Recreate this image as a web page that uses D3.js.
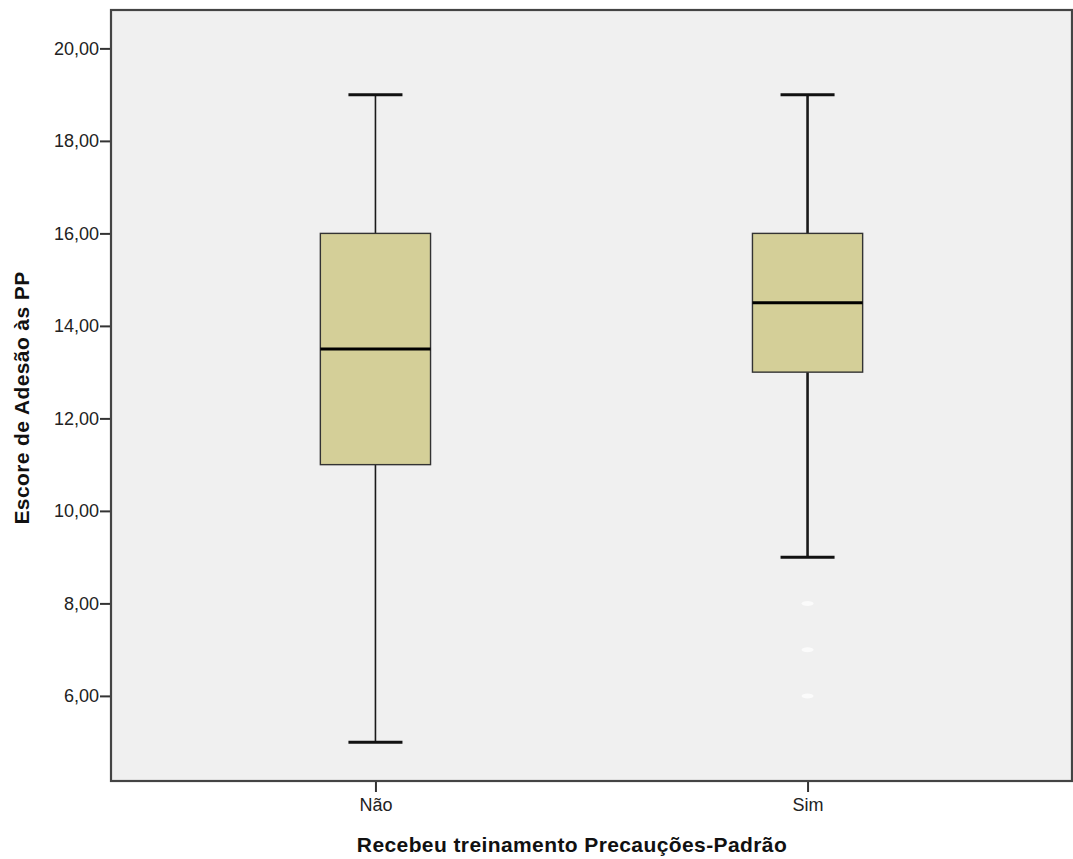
<!DOCTYPE html>
<html>
<head>
<meta charset="utf-8">
<script src="https://cdnjs.cloudflare.com/ajax/libs/d3/7.8.5/d3.min.js"></script>
<style>
  body { margin: 0; background: #fff; }
  svg { display: block; font-family: "Liberation Sans", Arial, sans-serif; }
</style>
</head>
<body>
<svg id="chart" width="1073" height="859"></svg>
<script>
// box plot values per group
const categories = ["Não", "Sim"];
const whiskerLow = [5, 9];
const q1 = [11, 13];
const median = [13.5, 14.5];
const q3 = [16, 16];
const whiskerHigh = [19, 19];
const outliers = [[], [8, 7, 6]];
const yTicks = [6, 8, 10, 12, 14, 16, 18, 20];

const frame = { left: 111, right: 1072, top: 10, bottom: 781 };
const svg = d3.select("#chart");

const x = d3.scalePoint().domain(categories)
    .range([frame.left, frame.right]).padding(0.612);
const y = d3.scaleLinear().domain([4.16, 20.83])
    .range([frame.bottom, frame.top]);

const fmt = v => d3.format(".2f")(v).replace(".", ",");

// plot background
svg.append("rect")
    .attr("x", frame.left).attr("y", frame.top)
    .attr("width", frame.right - frame.left).attr("height", frame.bottom - frame.top)
    .attr("fill", "#f0f0f0");

// axes
const yAxis = svg.append("g").attr("transform", `translate(${frame.left},0)`)
    .call(d3.axisLeft(y).tickValues(yTicks).tickFormat(fmt).tickSize(11).tickPadding(1));
const xAxis = svg.append("g").attr("transform", `translate(0,${frame.bottom})`)
    .call(d3.axisBottom(x).tickSize(11).tickPadding(6));
[yAxis, xAxis].forEach(a => {
    a.select(".domain").remove();
    a.selectAll(".tick line").attr("stroke", "#333").attr("stroke-width", 2);
    a.selectAll(".tick text").attr("fill", "#222").attr("font-size", 18)
        .attr("font-family", "'Liberation Sans', Arial, sans-serif");
});

const boxW = x.step() * 0.255;
const capW = x.step() * 0.125;
const whiskerW = [1.6, 2.6];

const g = svg.append("g");
categories.forEach((c, i) => {
    const cx = x(c);
    // whisker stems
    g.append("line").attr("x1", cx).attr("x2", cx)
        .attr("y1", y(whiskerLow[i])).attr("y2", y(q1[i]))
        .attr("stroke", "#1a1a1a").attr("stroke-width", whiskerW[i]);
    g.append("line").attr("x1", cx).attr("x2", cx)
        .attr("y1", y(q3[i])).attr("y2", y(whiskerHigh[i]))
        .attr("stroke", "#1a1a1a").attr("stroke-width", whiskerW[i]);
    // caps
    [whiskerLow[i], whiskerHigh[i]].forEach(v => {
        g.append("line").attr("x1", cx - capW / 2).attr("x2", cx + capW / 2)
            .attr("y1", y(v)).attr("y2", y(v))
            .attr("stroke", "#111").attr("stroke-width", 3);
    });
    // box
    g.append("rect")
        .attr("x", cx - boxW / 2).attr("width", boxW)
        .attr("y", y(q3[i])).attr("height", y(q1[i]) - y(q3[i]))
        .attr("fill", "#d4cf98").attr("stroke", "#333").attr("stroke-width", 1.4);
    // median
    g.append("line").attr("x1", cx - boxW / 2).attr("x2", cx + boxW / 2)
        .attr("y1", y(median[i])).attr("y2", y(median[i]))
        .attr("stroke", "#000").attr("stroke-width", 3.2);
    // outliers (drawn white, nearly invisible as in the source)
    g.selectAll(null).data(outliers[i]).join("ellipse")
        .attr("cx", cx).attr("cy", d => y(d))
        .attr("rx", 6).attr("ry", 2.5)
        .attr("fill", "#fff").attr("opacity", 0.7);
});

// frame
svg.append("rect")
    .attr("x", frame.left).attr("y", frame.top)
    .attr("width", frame.right - frame.left).attr("height", frame.bottom - frame.top)
    .attr("fill", "none").attr("stroke", "#444").attr("stroke-width", 2.2);

// axis titles
svg.append("text")
    .attr("x", 572).attr("y", 852)
    .attr("text-anchor", "middle")
    .attr("font-size", 21).attr("font-weight", "bold").attr("fill", "#111")
    .attr("letter-spacing", 0.4)
    .text("Recebeu treinamento Precauções-Padrão");

svg.append("text")
    .attr("transform", `translate(29,398) rotate(-90)`)
    .attr("text-anchor", "middle")
    .attr("font-size", 21).attr("font-weight", "bold").attr("fill", "#111")
    .attr("letter-spacing", 0.4)
    .text("Escore de Adesão às PP");
</script>
</body>
</html>
